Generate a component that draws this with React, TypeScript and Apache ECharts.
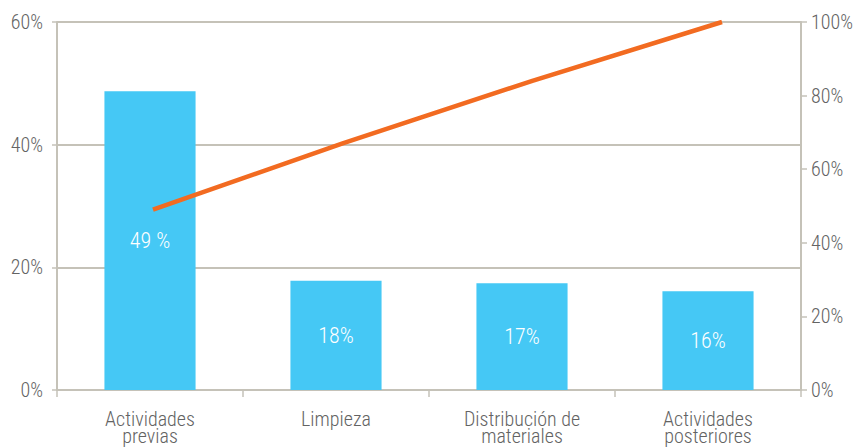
import React, { useEffect, useRef } from "react";
import * as echarts from "echarts";

const categories = ["Actividades\nprevias", "Limpieza", "Distribución de\nmateriales", "Actividades\nposteriores"];
const barValues = [48.7, 17.8, 17.4, 16.1];
const barLabels = ["49 %", "18%", "17%", "16%"];
const cumulativeValues = [49, 67, 84, 100];
const leftTicks = { min: 0, max: 60, interval: 20 };
const rightTicks = { min: 0, max: 100, interval: 20 };

const FONT = "'Roboto Condensed', 'Arial Narrow', Roboto, sans-serif";
const AXIS_GRAY = "#c5c2b8";
const TEXT_GRAY = "#636363";

export default function App() {
  const ref = useRef<HTMLDivElement>(null);
  useEffect(() => {
    if (!ref.current) return;
    const chart = echarts.init(ref.current, undefined, { renderer: "svg" });
    chart.setOption({
      animation: false,
      textStyle: { fontFamily: FONT },
      grid: { left: 57, right: 55, top: 22, bottom: 57 },
      xAxis: [
        {
          type: "category",
          data: categories,
          boundaryGap: true,
          axisLine: { show: true, lineStyle: { color: AXIS_GRAY, width: 2 } },
          axisTick: { show: true, length: 7, alignWithLabel: false, lineStyle: { color: AXIS_GRAY, width: 1.5 } },
          axisLabel: { color: TEXT_GRAY, fontSize: 20, fontWeight: 300, fontFamily: FONT, lineHeight: 17, margin: 20 },
        },
        {
          type: "value",
          show: false,
          min: -0.506,
          max: 3.4165,
        },
      ],
      yAxis: [
        {
          type: "value",
          min: leftTicks.min,
          max: leftTicks.max,
          interval: leftTicks.interval,
          position: "left",
          axisLine: { show: true, onZero: false, lineStyle: { color: AXIS_GRAY, width: 2 } },
          axisTick: { show: true, length: 5, lineStyle: { color: AXIS_GRAY, width: 1.5 } },
          splitLine: { show: true, lineStyle: { color: AXIS_GRAY, width: 2 } },
          axisLabel: { color: TEXT_GRAY, fontSize: 20, fontWeight: 300, fontFamily: FONT, formatter: "{value}%", margin: 14 },
        },
        {
          type: "value",
          min: rightTicks.min,
          max: rightTicks.max,
          interval: rightTicks.interval,
          position: "right",
          axisLine: { show: true, onZero: false, lineStyle: { color: AXIS_GRAY, width: 2 } },
          axisTick: { show: true, length: 6, lineStyle: { color: AXIS_GRAY, width: 1.5 } },
          splitLine: { show: false },
          axisLabel: { color: TEXT_GRAY, fontSize: 20, fontWeight: 300, fontFamily: FONT, formatter: "{value}%", margin: 10 },
        },
      ],
      series: [
        {
          type: "bar",
          xAxisIndex: 0,
          yAxisIndex: 0,
          data: barValues,
          barWidth: "49%",
          itemStyle: { color: "#45c8f5" },
          label: {
            show: true,
            position: "inside",
            color: "#ffffff",
            fontSize: 22,
            fontWeight: 300,
            fontFamily: FONT,
            formatter: (p: any) => barLabels[p.dataIndex],
          },
        },
        {
          type: "line",
          xAxisIndex: 1,
          yAxisIndex: 1,
          data: cumulativeValues.map((v, i) => [i, v]),
          symbol: "none",
          lineStyle: { color: "#f26b21", width: 4.5 },
          z: 5,
        },
      ],
    });
    return () => chart.dispose();
  }, []);
  return <div ref={ref} style={{ width: 856, height: 447, position: "absolute", left: 0, top: 0 }} />;
}
